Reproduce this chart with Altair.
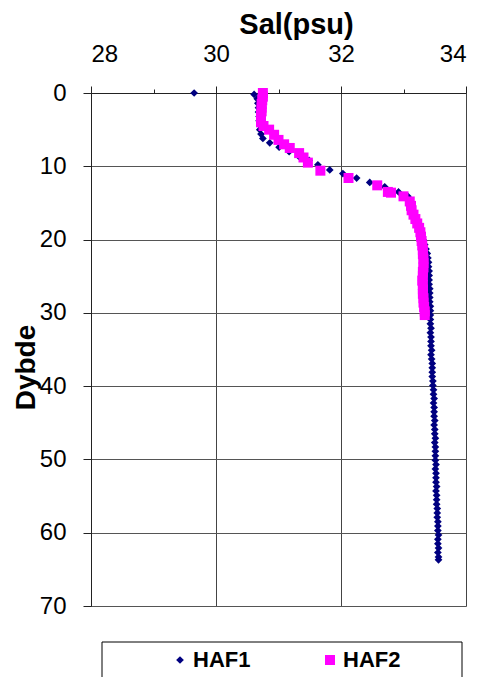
import altair as alt
import pandas as pd

# HAF1 (navy diamonds): depth (m) and salinity (psu)
haf1_depth = [0.0, 0.2, 0.8, 1.4, 2.0, 2.6, 3.2, 3.8, 4.4, 5.0, 5.6, 6.2, 6.8, 7.4, 8.0, 8.6,
              9.2, 9.8, 10.5, 11.0, 11.6, 12.2, 12.8, 13.5, 14.1, 14.7, 15.3, 15.9, 16.5, 17.1,
              17.7, 18.3, 18.9, 19.5, 20.1, 20.7, 21.3, 21.9, 22.5, 23.1, 23.7, 24.3, 24.9, 25.5,
              26.1, 26.7, 27.3, 27.9, 28.5, 29.1, 29.7, 30.3, 30.9, 31.5, 32.1, 32.7, 33.3, 33.9,
              34.5, 35.1, 35.7, 36.3, 36.9, 37.5, 38.1, 38.7, 39.3, 39.9, 40.5, 41.1, 41.7, 42.3,
              42.9, 43.5, 44.1, 44.7, 45.3, 45.9, 46.5, 47.1, 47.7, 48.3, 48.9, 49.5, 50.1, 50.7,
              51.3, 51.9, 52.5, 53.1, 53.7, 54.3, 54.9, 55.5, 56.1, 56.7, 57.3, 57.9, 58.5, 59.1,
              59.7, 60.3, 60.9, 61.5, 62.1, 62.7, 63.3, 63.7]
haf1_sal = [29.65, 30.61, 30.66, 30.67, 30.68, 30.68, 30.69, 30.69, 30.70, 30.70, 30.72, 30.75,
            30.86, 31.01, 31.17, 31.32, 31.49, 31.63, 31.82, 32.03, 32.25, 32.46, 32.70, 32.92,
            33.07, 33.10, 33.12, 33.14, 33.16, 33.19, 33.22, 33.25, 33.28, 33.30, 33.32, 33.34,
            33.36, 33.38, 33.39, 33.40, 33.40, 33.41, 33.41, 33.41, 33.41, 33.42, 33.42, 33.42,
            33.42, 33.43, 33.43, 33.43, 33.43, 33.43, 33.44, 33.43, 33.44, 33.44, 33.44, 33.45,
            33.44, 33.45, 33.46, 33.46, 33.46, 33.46, 33.47, 33.47, 33.48, 33.48, 33.49, 33.48,
            33.49, 33.49, 33.49, 33.50, 33.49, 33.50, 33.50, 33.51, 33.50, 33.51, 33.51, 33.51,
            33.51, 33.52, 33.51, 33.52, 33.52, 33.52, 33.53, 33.52, 33.53, 33.53, 33.53, 33.54,
            33.54, 33.54, 33.55, 33.55, 33.55, 33.56, 33.55, 33.55, 33.56, 33.55, 33.56, 33.56]

# HAF2 (magenta squares)
haf2_depth = [0.0, 0.5, 1.0, 1.5, 2.0, 2.5, 3.0, 3.5, 4.0, 4.5, 5.0, 5.7, 6.4, 7.0, 7.5, 8.2,
              8.8, 9.5, 10.6, 11.6, 12.6, 13.5, 13.6, 14.1, 14.8, 15.4, 16.0, 16.6, 17.2, 17.8,
              18.4, 19.0, 19.6, 20.2, 20.8, 21.4, 22.0, 22.6, 23.2, 23.8, 24.4, 25.0, 25.6, 26.2,
              26.8, 27.4, 28.0, 28.6, 29.2, 29.8, 30.3]
haf2_sal = [30.75, 30.75, 30.74, 30.73, 30.73, 30.73, 30.72, 30.72, 30.72, 30.76, 30.85, 30.93,
            31.00, 31.09, 31.18, 31.33, 31.40, 31.47, 31.67, 32.12, 32.58, 32.75, 32.80, 33.00,
            33.10, 33.12, 33.13, 33.16, 33.19, 33.22, 33.25, 33.27, 33.28, 33.29, 33.30, 33.31,
            33.31, 33.32, 33.32, 33.32, 33.31, 33.31, 33.30, 33.31, 33.31, 33.31, 33.32, 33.32,
            33.33, 33.34, 33.34]

series = ["HAF1", "HAF2"]
colors = ["#000080", "#FF00FF"]
shapes = ["diamond", "square"]
sizes = [60, 100]

x_ticks = [28, 29, 30, 31, 32, 33, 34]
y_ticks = [0, 10, 20, 30, 40, 50, 60, 70]

df = pd.concat([
    pd.DataFrame({"Sal": haf1_sal, "Dybde": haf1_depth, "Serie": "HAF1", "order": 0}),
    pd.DataFrame({"Sal": haf2_sal, "Dybde": haf2_depth, "Serie": "HAF2", "order": 1}),
], ignore_index=True)

font = "Liberation Sans"

legend_box = alt.Chart(alt.Data(values=[{"a": 1}])).mark_rect(
    fill="white", stroke="#000000", strokeWidth=1
).encode(
    x=alt.value(11), x2=alt.value(371), y=alt.value(549), y2=alt.value(640)
)

points = alt.Chart(df).mark_point(filled=True, opacity=1).encode(
    x=alt.X("Sal:Q",
            scale=alt.Scale(domain=[28, 34], nice=False, zero=False),
            axis=alt.Axis(orient="top", title="Sal(psu)", values=x_ticks,
                          labelExpr="datum.value % 2 == 0 ? datum.label : ''",
                          tickSize={"condition": {"test": "datum.value % 2 != 0", "value": 4}, "value": 7},
                          gridOpacity={"condition": {"test": "datum.value % 2 != 0", "value": 0}, "value": 1},
                          labelFontSize=24, labelPadding=20, labelFont=font, labelColor="#000",
                          titleFont=font, titleFontSize=29, titleFontWeight="bold", titleColor="#000",
                          titleX=205, titleY=-60, titleAnchor="middle", titleBaseline="alphabetic",
                          domainColor="#222", tickColor="#222", gridColor="#444")),
    y=alt.Y("Dybde:Q",
            scale=alt.Scale(domain=[0, 70], nice=False, reverse=True, zero=False),
            axis=alt.Axis(title="Dybde", values=y_ticks,
                          labelFontSize=24, labelPadding=17, labelFont=font, labelColor="#000",
                          tickSize=8, domainColor="#222", tickColor="#222", gridColor="#555",
                          titleFont=font, titleFontSize=28, titleFontWeight="bold", titleColor="#000",
                          titleAngle=-90, titleX=-57, titleY=274, titleAlign="center",
                          titleBaseline="alphabetic")),
    color=alt.Color("Serie:N", scale=alt.Scale(domain=series, range=colors),
                    legend=alt.Legend(title=None, orient="none", direction="horizontal",
                                      legendX=78, legendY=556, padding=0, columnPadding=68,
                                      labelFont=font, labelFontSize=22, labelFontWeight="bold",
                                      labelColor="#000", symbolSize=70, labelOffset=2,
                                      symbolStrokeWidth=0)),
    shape=alt.Shape("Serie:N", scale=alt.Scale(domain=series, range=shapes)),
    size=alt.Size("Serie:N", scale=alt.Scale(domain=series, range=sizes), legend=None),
    order=alt.Order("order:Q"),
)

chart = alt.layer(legend_box, points).properties(
    width=375, height=513,
    padding={"left": 83, "top": 85, "right": 12, "bottom": 72},
    autosize=alt.AutoSizeParams(type="none"),
).configure_view(stroke="#222", strokeWidth=1).configure(background="white")

chart.save("out.html", embed_options={"renderer": "svg", "actions": False})
